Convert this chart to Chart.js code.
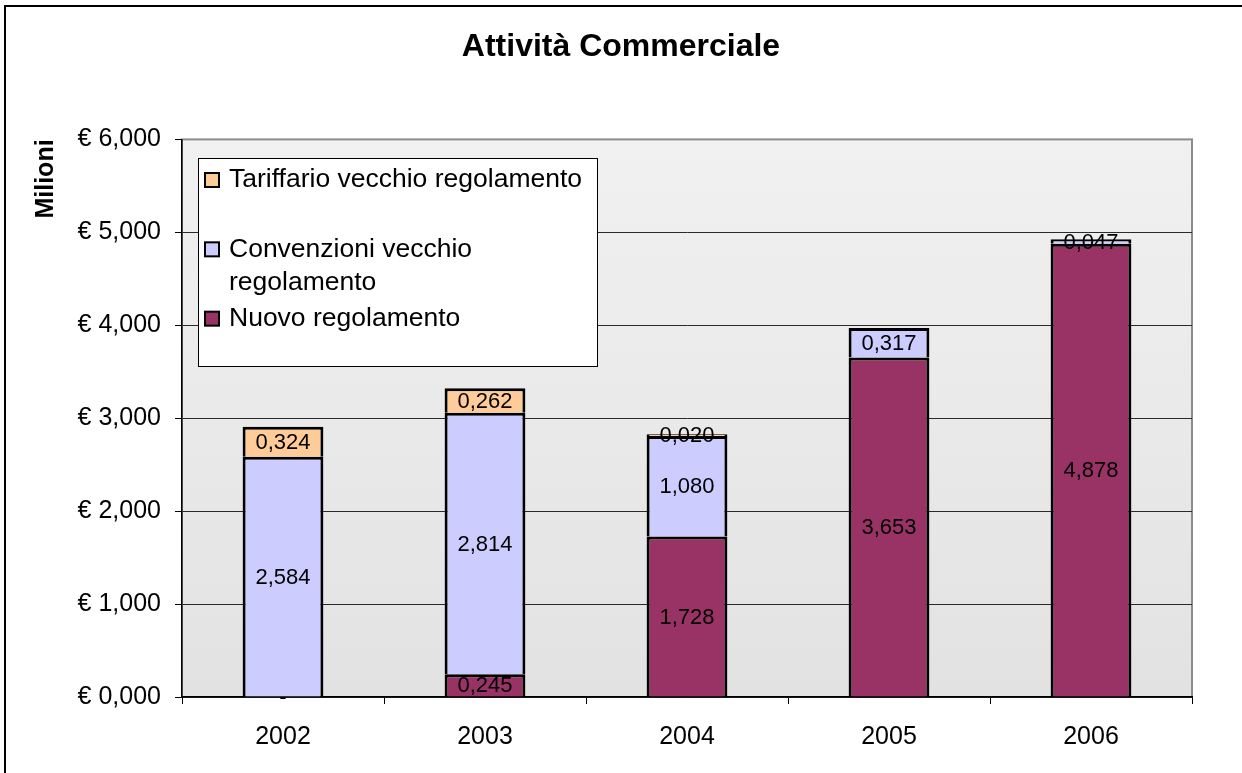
<!DOCTYPE html>
<html>
<head>
<meta charset="utf-8">
<script src="https://cdn.jsdelivr.net/npm/chart.js@4.4.1/dist/chart.umd.min.js"></script>
<style>
  html, body { margin: 0; padding: 0; background: #fff; }
  canvas { display: block; }
</style>
</head>
<body>
<canvas id="chart" width="1242" height="773"></canvas>
<script>
// Dati (milioni di euro)
const years = ["2002", "2003", "2004", "2005", "2006"];
const nuovo = [0, 0.245, 1.728, 3.653, 4.878];
const convenzioni = [2.584, 2.814, 1.080, 0.317, 0.047];
const tariffario = [0.324, 0.262, 0.020, null, null];
const seriesNames = ["Nuovo regolamento", "Convenzioni vecchio regolamento", "Tariffario vecchio regolamento"];
const seriesColors = ["#993366", "#CCCCFF", "#FFCC99"];
const yTicks = [0, 1, 2, 3, 4, 5, 6];

const FONT = '"Liberation Sans", Arial, sans-serif';
Chart.defaults.font.family = FONT;
Chart.defaults.color = "#000";

// formato italiano: 2,584
const fmt = v => v.toFixed(3).replace(".", ",");

// Sfondo, cornice esterna e area del grafico.
const frame = {
    id: "frame",
    beforeDraw(chart) {
        const { ctx, chartArea: a } = chart;
        ctx.save();
        ctx.fillStyle = "#fff";
        ctx.fillRect(0, 0, chart.width, chart.height);
        ctx.strokeStyle = "#000";
        ctx.lineWidth = 2;
        ctx.strokeRect(5, 6, chart.width + 20, chart.height + 20);
        const g = ctx.createLinearGradient(0, a.top, 0, a.bottom);
        g.addColorStop(0, "#f1f1f1");
        g.addColorStop(1, "#e2e2e2");
        ctx.fillStyle = g;
        ctx.fillRect(a.left, a.top, a.right - a.left, a.bottom - a.top);
        ctx.strokeStyle = "#8c8c8c";
        ctx.lineWidth = 2;
        ctx.strokeRect(a.left, a.top, a.right - a.left, a.bottom - a.top);
        ctx.restore();
    }
};

// Etichette dei valori al centro di ogni segmento.
const valueLabels = {
    id: "valueLabels",
    afterDatasetsDraw(chart) {
        const ctx = chart.ctx;
        ctx.save();
        ctx.font = "22px " + FONT;
        ctx.fillStyle = "#000";
        ctx.textAlign = "center";
        ctx.textBaseline = "middle";
        chart.data.datasets.forEach((ds, i) => {
            chart.getDatasetMeta(i).data.forEach((bar, j) => {
                const v = ds.data[j];
                if (v === null) return;
                const y = (bar.y + bar.base) / 2;
                ctx.fillText(v === 0 ? "-" : fmt(v), bar.x, y + 1);
            });
        });
        ctx.restore();
    }
};

function wrapText(ctx, text, maxWidth) {
    const words = text.split(" ");
    const lines = [];
    let line = "";
    words.forEach(w => {
        const test = line ? line + " " + w : w;
        if (line && ctx.measureText(test).width > maxWidth) {
            lines.push(line);
            line = w;
        } else {
            line = test;
        }
    });
    lines.push(line);
    return lines;
}

// Legenda in stile Excel, dentro l'area del grafico.
const boxLegend = {
    id: "boxLegend",
    afterDraw(chart) {
        const ctx = chart.ctx;
        const box = { x: 198, y: 158, w: 399, h: 208 };
        ctx.save();
        ctx.fillStyle = "#fff";
        ctx.fillRect(box.x, box.y, box.w, box.h);
        ctx.strokeStyle = "#000";
        ctx.lineWidth = 1;
        ctx.strokeRect(box.x + 0.5, box.y + 0.5, box.w, box.h);
        ctx.font = "26.5px " + FONT;
        ctx.textBaseline = "middle";
        const items = chart.data.datasets.slice().reverse();
        const slot = box.h / items.length;
        items.forEach((ds, i) => {
            const lines = wrapText(ctx, ds.label, 362);
            const y0 = box.y + i * slot + 22;
            ctx.fillStyle = ds.backgroundColor;
            ctx.fillRect(205, y0 - 7, 14, 14);
            ctx.lineWidth = 2;
            ctx.strokeStyle = "#000";
            ctx.strokeRect(205, y0 - 7, 14, 14);
            ctx.fillStyle = "#000";
            lines.forEach((ln, k) => ctx.fillText(ln, 229, y0 + k * 33));
        });
        ctx.restore();
    }
};

new Chart(document.getElementById("chart"), {
    type: "bar",
    data: {
        labels: years,
        datasets: [
            { label: seriesNames[0], data: nuovo, backgroundColor: seriesColors[0] },
            { label: seriesNames[1], data: convenzioni, backgroundColor: seriesColors[1] },
            { label: seriesNames[2], data: tariffario, backgroundColor: seriesColors[2] }
        ]
    },
    options: {
        responsive: false,
        animation: false,
        layout: { padding: 0 },
        datasets: {
            bar: {
                borderColor: "#000",
                borderWidth: 3,
                categoryPercentage: 1,
                barPercentage: 0.4
            }
        },
        plugins: {
            legend: { display: false },
            tooltip: { enabled: false },
            title: {
                display: true,
                text: "Attività Commerciale",
                color: "#000",
                font: { size: 32, weight: "bold" },
                padding: { top: 28, bottom: 73 }
            }
        },
        scales: {
            x: {
                stacked: true,
                grid: { drawOnChartArea: false, tickLength: 7, color: "#000", offset: true },
                border: { color: "#000", width: 1.5 },
                ticks: { color: "#000", font: { size: 25 }, padding: 18 },
                afterFit(s) { s.height = 76; }
            },
            y: {
                stacked: true,
                min: 0,
                max: 6,
                afterBuildTicks(s) { s.ticks = yTicks.map(v => ({ value: v })); },
                grid: {
                    color: c => (c.tick && c.tick.value === 6 ? "rgba(0,0,0,0)" : "#2a2a2a"),
                    tickLength: 7,
                    tickColor: "#000"
                },
                border: { color: "#000", width: 1.5 },
                ticks: {
                    color: "#000",
                    font: { size: 25 },
                    padding: 14,
                    callback: v => "€ " + fmt(v)
                },
                title: {
                    display: true,
                    text: "Milioni",
                    align: "end",
                    color: "#000",
                    font: { size: 25, weight: "bold" },
                    padding: { top: 31, bottom: 0 }
                },
                afterFit(s) { s.width = 182; }
            },
            y2: {
                position: "right",
                display: true,
                grid: { display: false },
                border: { display: false },
                ticks: { display: false },
                afterFit(s) { s.width = 50; }
            }
        }
    },
    plugins: [frame, valueLabels, boxLegend]
});
</script>
</body>
</html>
